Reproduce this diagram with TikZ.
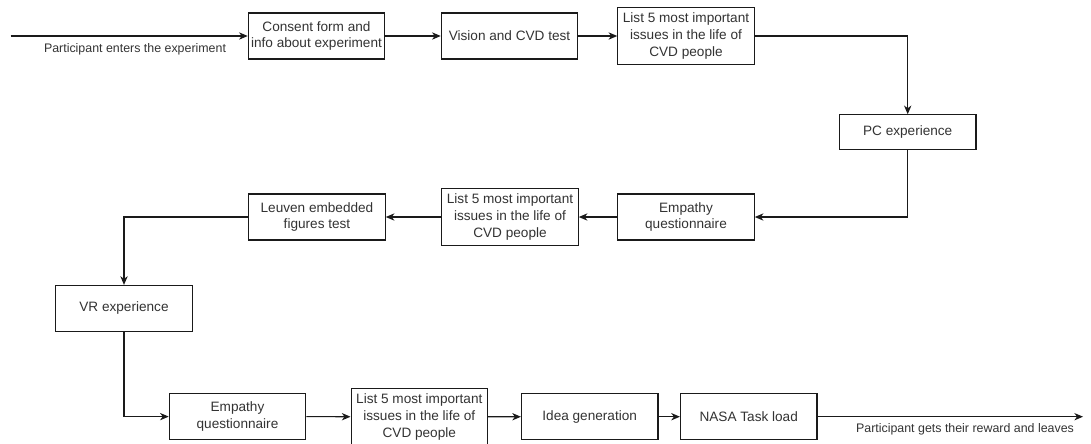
\documentclass[tikz,border=0pt]{standalone}
\usepackage{fontspec}
\setmainfont{Liberation Sans}
\usepackage{tikz}
\usetikzlibrary{arrows.meta}
\usepackage{xcolor}
\definecolor{inkgray}{HTML}{333333}
\definecolor{linegray}{HTML}{1A1A1A}
\newcommand{\boxfont}{\fontsize{10.2}{12.6}\selectfont}
\newcommand{\lblfont}{\fontsize{9.3}{11}\selectfont}

\tikzset{
    procbox/.style={draw=linegray, line width=0.8pt, fill=white, text=inkgray,
        font=\boxfont, align=center, inner sep=1pt,
        minimum width=102.4pt, minimum height=34.5pt},
    tallbox/.style={procbox, minimum height=42.8pt},
    flatbox/.style={procbox, minimum height=25.9pt},
    flow/.style={draw=linegray, line width=0.8pt,
        -{Stealth[length=6.5pt, width=5.5pt, inset=2pt]}},
    flowlbl/.style={text=inkgray, font=\lblfont, inner sep=0pt}
}

\begin{document}
\begin{tikzpicture}[x=0.75pt, y=-0.75pt]
    \useasboundingbox (0,0) rectangle (1091,443);

    % First row
    \node[procbox] (consent) at (316.5,36) {Consent form and\\info about experiment};
    \node[procbox] (vision) at (509.5,36) {Vision and CVD test};
    \node[tallbox] (listA) at (686,36) {List 5 most important\\issues in the life of\\CVD people};

    % PC block
    \node[flatbox] (pcexp) at (907.7,132) {PC experience};

    % Second row
    \node[procbox] (empA) at (686,217) {Empathy\\questionnaire};
    \node[tallbox] (listB) at (510,217) {List 5 most important\\issues in the life of\\CVD people};
    \node[procbox] (leuven) at (317,217) {Leuven embedded\\figures test};

    % VR block
    \node[procbox] (vrexp) at (124,308.4) {VR experience};

    % Last row
    \node[procbox] (empB) at (237.5,416.6) {Empathy\\questionnaire};
    \node[tallbox] (listC) at (419.3,416.8) {List 5 most important\\issues in the life of\\CVD people};
    \node[procbox] (idea) at (589.7,416.7) {Idea generation};
    \node[procbox] (nasa) at (748.7,416.7) {NASA Task load};

    % Entry and exit
    \coordinate (enter) at (10.5,36);
    \coordinate (leave) at (1083,416.7);
    \node[flowlbl] (enterlbl) at (135,49) {Participant enters the experiment};
    \node[flowlbl] (leavelbl) at (965,429.5) {Participant gets their reward and leaves};

    % Connectors
    \draw[flow] (enter) -- (consent.west);
    \draw[flow] (consent) -- (vision);
    \draw[flow] (vision) -- (listA);
    \draw[flow] (listA.east) -| (pcexp.north);
    \draw[flow] (pcexp.south) |- (empA.east);
    \draw[flow] (empA) -- (listB);
    \draw[flow] (listB) -- (leuven);
    \draw[flow] (leuven.west) -| (vrexp.north);
    \draw[flow] (vrexp.south) |- (empB.west);
    \draw[flow] (empB) -- (listC);
    \draw[flow] (listC) -- (idea);
    \draw[flow] (idea) -- (nasa);
    \draw[flow] (nasa.east) -- (leave);
\end{tikzpicture}
\end{document}
